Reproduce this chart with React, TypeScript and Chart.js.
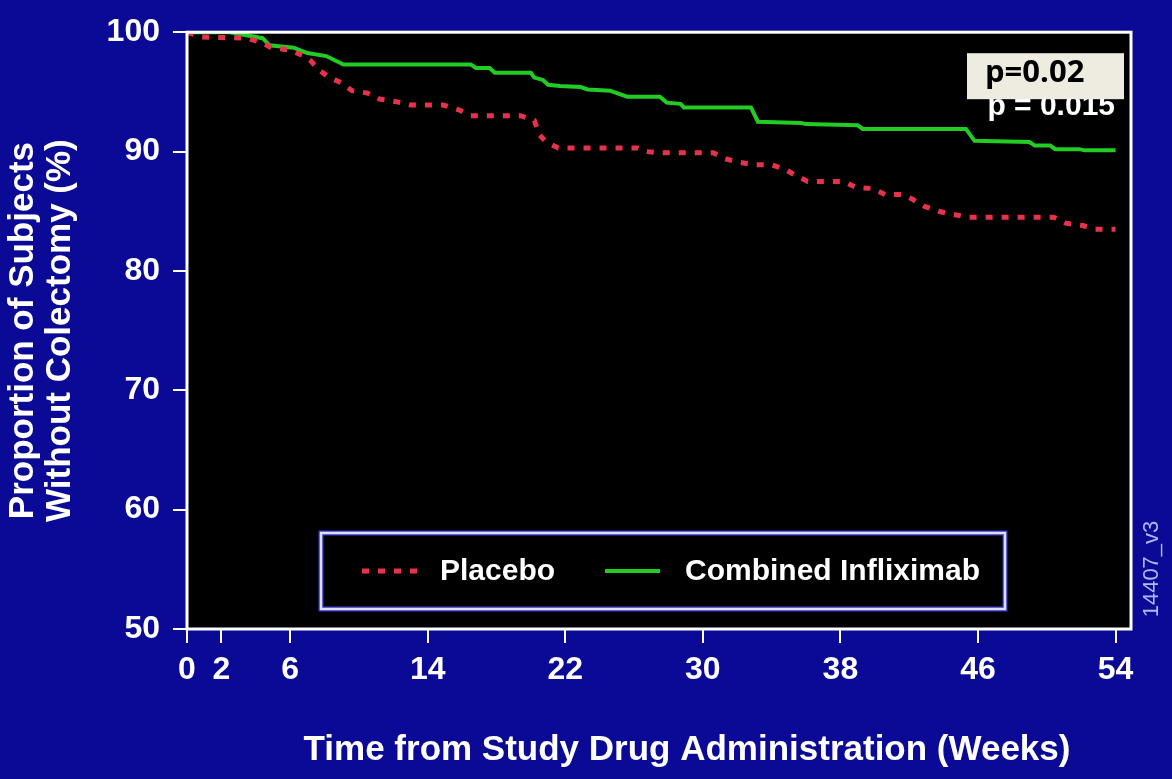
import React, { useEffect, useRef } from 'react';
import { Chart, registerables } from 'chart.js';

Chart.register(...registerables);

// ---------- data ----------
const xTickValues = [0, 2, 6, 14, 22, 30, 38, 46, 54];
const yTickValues = [50, 60, 70, 80, 90, 100];

const placeboWeeks = [0, 0.8, 3.5, 4.4, 4.9, 6.0, 6.8, 7.2, 7.7, 8.3, 9.0, 9.6, 10.5, 11.2, 12.1, 13.0, 14.9, 15.8, 16.5, 19.4, 20.2, 20.5, 20.9, 21.6, 26.2, 26.7, 27.5, 30.6, 31.3, 32.1, 33.0, 34.0, 34.8, 35.4, 36.1, 38.2, 38.9, 39.9, 40.6, 41.6, 42.2, 42.9, 43.7, 44.5, 45.4, 50.4, 51.1, 52.1, 52.8, 54];
const placeboValues = [100, 99.6, 99.5, 99.1, 98.7, 98.5, 98.0, 97.6, 96.8, 96.2, 95.75, 95.1, 94.9, 94.4, 94.2, 93.9, 93.9, 93.5, 93.0, 93.0, 92.6, 91.4, 90.8, 90.3, 90.3, 90.0, 89.9, 89.9, 89.4, 89.1, 88.9, 88.9, 88.5, 88.0, 87.5, 87.5, 87.0, 86.9, 86.4, 86.4, 86.0, 85.4, 85.0, 84.75, 84.5, 84.5, 84.0, 83.8, 83.5, 83.5];

const infliximabWeeks = [0, 2.5, 4.4, 4.8, 6.2, 7.0, 8.1, 9.1, 16.5, 16.8, 17.6, 17.9, 20.0, 20.2, 20.7, 21.0, 21.7, 22.9, 23.3, 24.6, 25.0, 25.6, 27.5, 27.9, 28.7, 28.9, 32.8, 33.2, 35.7, 36.0, 39.0, 39.3, 45.3, 45.8, 49.0, 49.3, 50.2, 50.5, 51.9, 52.2, 54];
const infliximabValues = [100, 100, 99.5, 98.9, 98.7, 98.25, 98.0, 97.3, 97.3, 97.0, 97.0, 96.6, 96.6, 96.2, 96.0, 95.6, 95.5, 95.4, 95.2, 95.1, 94.9, 94.6, 94.6, 94.1, 94.0, 93.7, 93.7, 92.5, 92.4, 92.3, 92.2, 91.9, 91.9, 90.9, 90.8, 90.5, 90.5, 90.2, 90.2, 90.1, 90.1];

const seriesLabels = ['Placebo', 'Combined Infliximab'];
const xAxisTitle = 'Time from Study Drug Administration (Weeks)';
const yAxisTitle = ['Proportion of Subjects', 'Without Colectomy (%)'];
const pValueShown = 'p=0.02';
const pValueUnder = 'p = 0.015';
const figureId = '14407_v3';

// ---------- styles ----------
const BLUE = '#0a0a96';
const RED = '#e8324b';
const GREEN = '#22cc22';
const FONT = "'Liberation Sans', Arial, Helvetica, sans-serif";

const decorPlugin = {
  id: 'decor',
  beforeDraw(chart: any) {
    const { ctx, width, height, chartArea: a } = chart;
    ctx.save();
    ctx.fillStyle = BLUE;
    ctx.fillRect(0, 0, width, height);
    ctx.fillStyle = '#000000';
    ctx.fillRect(a.left, a.top, a.right - a.left, a.bottom - a.top);
    ctx.restore();
  },
  afterDraw(chart: any) {
    const { ctx, chartArea: a } = chart;
    ctx.save();
    // plot frame
    ctx.strokeStyle = '#ffffff';
    ctx.lineWidth = 3;
    ctx.setLineDash([]);
    ctx.strokeRect(a.left, a.top, a.right - a.left, a.bottom - a.top);

    // legend box
    const lx = a.left + 134, ly = a.bottom - 96, lw = 684, lh = 76;
    ctx.fillStyle = '#000000';
    ctx.fillRect(lx, ly, lw, lh);
    ctx.strokeStyle = '#3a3ac8';
    ctx.lineWidth = 5;
    ctx.strokeRect(lx, ly, lw, lh);
    ctx.strokeStyle = '#dcdcff';
    ctx.lineWidth = 2.5;
    ctx.strokeRect(lx, ly, lw, lh);
    const cy = ly + lh / 2;
    const items = [
      { x1: lx + 41, x2: lx + 97, tx: lx + 119 },
      { x1: lx + 284, x2: lx + 339, tx: lx + 364 },
    ];
    chart.data.datasets.forEach((ds: any, i: number) => {
      const it = items[i];
      ctx.strokeStyle = ds.borderColor;
      ctx.lineWidth = ds.borderWidth;
      ctx.setLineDash(ds.borderDash || []);
      ctx.beginPath();
      ctx.moveTo(it.x1, cy);
      ctx.lineTo(it.x2, cy);
      ctx.stroke();
      ctx.setLineDash([]);
      ctx.fillStyle = '#ffffff';
      ctx.font = `bold 30px ${FONT}`;
      ctx.textAlign = 'left';
      ctx.textBaseline = 'middle';
      ctx.fillText(ds.label, it.tx, cy + 1);
    });

    // p-values
    ctx.fillStyle = '#ffffff';
    ctx.font = `bold 30px ${FONT}`;
    ctx.textAlign = 'right';
    ctx.textBaseline = 'alphabetic';
    ctx.fillText(pValueUnder, a.right - 16, a.top + 83);
    ctx.fillStyle = '#eeece1';
    ctx.fillRect(a.right - 164, a.top + 21, 157, 46);
    ctx.fillStyle = '#000000';
    ctx.font = `bold 31px 'Open Sans', ${FONT}`;
    ctx.textAlign = 'left';
    ctx.fillText(pValueShown, a.right - 146, a.top + 50);

    // x axis title
    ctx.fillStyle = '#ffffff';
    ctx.font = `bold 35px ${FONT}`;
    ctx.textAlign = 'center';
    ctx.textBaseline = 'middle';
    ctx.fillText(xAxisTitle, a.left + 500, a.bottom + 121);

    // figure id
    ctx.save();
    ctx.translate(a.right + 21, a.bottom - 60);
    ctx.rotate(-Math.PI / 2);
    ctx.fillStyle = '#b0b8f4';
    ctx.font = `22px ${FONT}`;
    ctx.textAlign = 'center';
    ctx.textBaseline = 'middle';
    ctx.fillText(figureId, 0, 0);
    ctx.restore();

    ctx.restore();
  },
};

export default function App() {
  const canvasRef = useRef<HTMLCanvasElement | null>(null);

  useEffect(() => {
    const canvas = canvasRef.current;
    if (!canvas) return;
    const chart = new Chart(canvas, {
      type: 'line',
      data: {
        datasets: [
          {
            label: seriesLabels[0],
            data: placeboWeeks.map((w, i) => ({ x: w, y: placeboValues[i] })),
            borderColor: RED,
            borderWidth: 5,
            borderDash: [7, 9],
            borderCapStyle: 'butt',
            pointRadius: 0,
            tension: 0,
            fill: false,
          },
          {
            label: seriesLabels[1],
            data: infliximabWeeks.map((w, i) => ({ x: w, y: infliximabValues[i] })),
            borderColor: GREEN,
            borderWidth: 4,
            pointRadius: 0,
            tension: 0,
            fill: false,
          },
        ],
      },
      options: {
        responsive: false,
        animation: false,
        devicePixelRatio: 1,
        layout: { padding: { top: 29, right: 41, left: 0, bottom: 0 } },
        plugins: {
          legend: { display: false },
          tooltip: { enabled: false },
          title: { display: false },
        },
        scales: {
          x: {
            type: 'linear',
            min: 0,
            max: 54.9,
            afterBuildTicks: (s: any) => {
              s.ticks = xTickValues.map((v) => ({ value: v }));
            },
            afterFit: (s: any) => {
              s.height = 150;
            },
            grid: {
              display: true,
              drawOnChartArea: false,
              drawTicks: true,
              tickLength: 14,
              color: '#ffffff',
              lineWidth: 2,
            },
            border: { display: false },
            ticks: {
              color: '#ffffff',
              font: { family: FONT, size: 32, weight: 'bold' },
              padding: 8,
              maxRotation: 0,
              autoSkip: false,
            },
          },
          y: {
            type: 'linear',
            min: 50,
            max: 100,
            afterBuildTicks: (s: any) => {
              s.ticks = yTickValues.map((v) => ({ value: v }));
            },
            afterFit: (s: any) => {
              s.width = 187;
            },
            grid: {
              display: true,
              drawOnChartArea: false,
              drawTicks: true,
              tickLength: 14,
              color: '#ffffff',
              lineWidth: 2,
            },
            border: { display: false },
            ticks: {
              color: '#ffffff',
              font: { family: FONT, size: 32, weight: 'bold' },
              padding: 13,
              autoSkip: false,
            },
            title: {
              display: true,
              text: yAxisTitle,
              color: '#ffffff',
              font: { family: FONT, size: 35, weight: 'bold', lineHeight: 1.06 },
              padding: { top: 5, bottom: 0 },
            },
          },
        },
      },
      plugins: [decorPlugin],
    } as any);
    return () => chart.destroy();
  }, []);

  return (
    <div style={{ position: 'fixed', left: 0, top: 0, width: 1172, height: 779 }}>
      <canvas ref={canvasRef} width={1172} height={779} style={{ display: 'block' }} />
    </div>
  );
}
